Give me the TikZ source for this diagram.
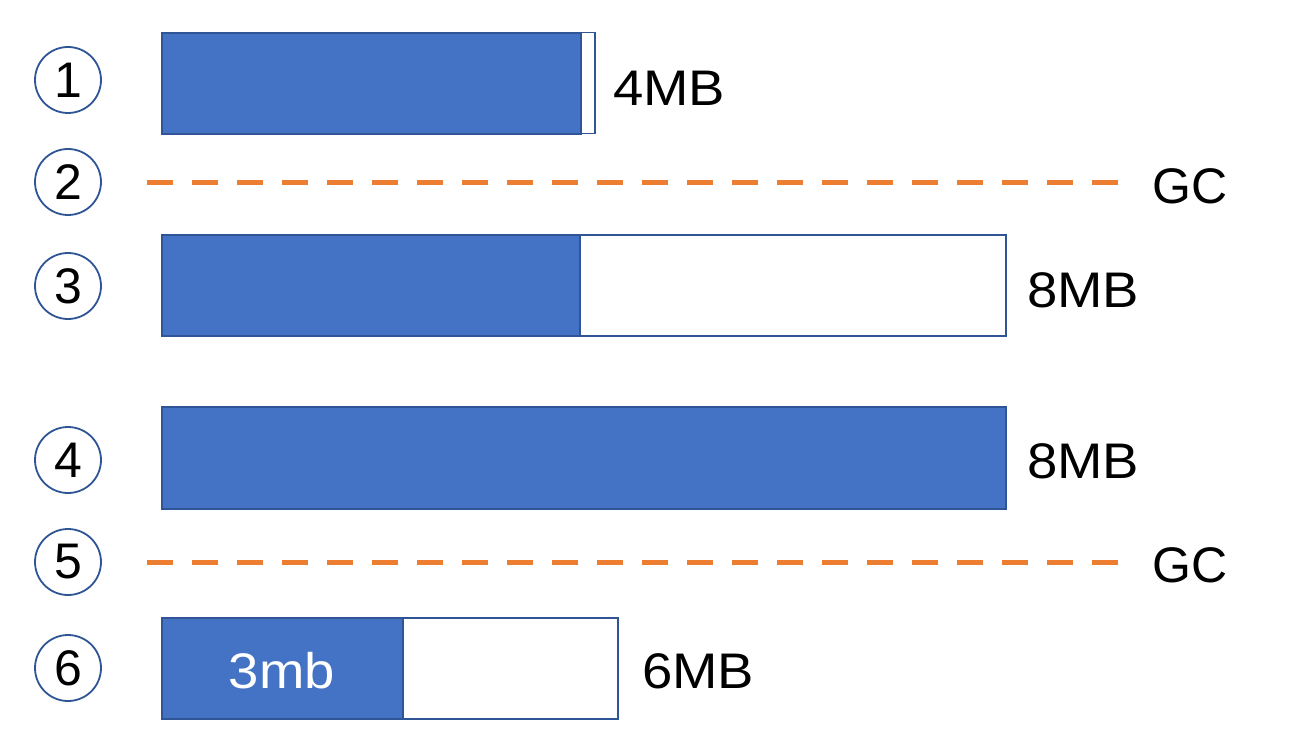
\documentclass[tikz,border=0pt]{standalone}
\usepackage{fontspec}
\setmainfont{Liberation Sans}
\newfontfamily\widesans[FakeStretch=1.09]{Liberation Sans}
\definecolor{barblue}{HTML}{4472C4}
\definecolor{edgeblue}{HTML}{2F5597}
\definecolor{gcorange}{HTML}{ED7D31}
\begin{document}
\begin{tikzpicture}[x=1pt,y=-1pt,
 num/.style={circle, draw=edgeblue, line width=1.8pt, minimum size=66pt, inner sep=0pt, font=\fontsize{50}{50}\selectfont},
 fullbar/.style={draw=edgeblue, fill=barblue, line width=2pt, anchor=north west, inner sep=0pt},
 emptybar/.style={draw=edgeblue, fill=white, line width=1.5pt, anchor=north west, inner sep=0pt},
 gcline/.style={draw=gcorange, line width=5pt, dash pattern=on 26pt off 19pt},
 lbl/.style={anchor=base west, font=\fontsize{50}{50}\selectfont, inner sep=0pt},
 sizelbl/.style={anchor=base west, font=\widesans\fontsize{50}{50}\selectfont, inner sep=0pt}]
\useasboundingbox[fill=white] (0,0) rectangle (1290,746);
% circles
\node[num] (c1) at (68,80) {1};
\node[num] (c2) at (68,182) {2};
\node[num] (c3) at (68,286) {3};
\node[num] (c4) at (68,460) {4};
\node[num] (c5) at (68,562) {5};
\node[num] (c6) at (68,668) {6};
% row 1
\node[emptybar, minimum width=433pt, minimum height=101pt] (b1o) at (161,32) {};
\node[fullbar, minimum width=419pt, minimum height=101pt] (b1f) at (161,32) {};
\node[sizelbl] (l1) at (613,106) {4MB};
% row 2
\coordinate (g2s) at (147,183);
\coordinate (g2e) at (1118,183);
\draw[gcline] (g2s) -- (g2e);
\node[lbl] (l2) at (1152,204) {GC};
% row 3
\node[emptybar, minimum width=844pt, minimum height=101pt] (b3o) at (161,234) {};
\node[fullbar, minimum width=418pt, minimum height=101pt] (b3f) at (161,234) {};
\node[sizelbl] (l3) at (1027,307) {8MB};
% row 4
\node[fullbar, minimum width=844pt, minimum height=102pt] (b4f) at (161,406) {};
\node[sizelbl] (l4) at (1027,478) {8MB};
% row 5
\coordinate (g5s) at (147,562);
\coordinate (g5e) at (1118,562);
\draw[gcline] (g5s) -- (g5e);
\node[lbl] (l5) at (1152,582) {GC};
% row 6
\node[emptybar, minimum width=456pt, minimum height=101pt] (b6o) at (161,617) {};
\node[fullbar, minimum width=241pt, minimum height=101pt] (b6f) at (161,617) {};
\node[anchor=base, font=\widesans\fontsize{50}{50}\selectfont, text=white, inner sep=0pt] (t6) at (282,688) {3mb};
\node[sizelbl] (l6) at (642,688) {6MB};
\end{tikzpicture}
\end{document}
